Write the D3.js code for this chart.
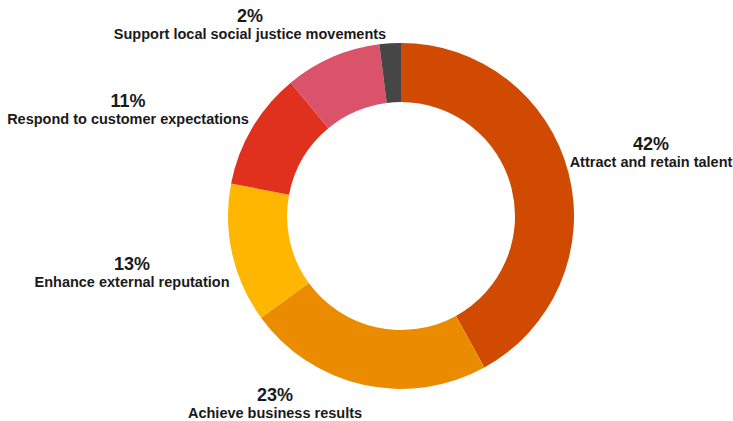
<!DOCTYPE html>
<html>
<head>
<meta charset="utf-8">
<script src="https://cdn.jsdelivr.net/npm/d3@7"></script>
<style>
  html, body { margin: 0; padding: 0; background: #fff; }
  svg { display: block; font-family: "Liberation Sans", Arial, sans-serif; }
</style>
</head>
<body>
<svg id="chart" width="733" height="421"></svg>
<script>
// Reasons for action, share of respondents (%), clockwise from 12 o'clock
const categories = [
  "Attract and retain talent",
  "Achieve business results",
  "Enhance external reputation",
  "Respond to customer expectations",
  "Other",
  "Support local social justice movements"
];
const values = [42, 23, 13, 11, 9, 2];
const showLabel = [true, true, true, true, false, true];
const colors = ["#d04a02", "#eb8c00", "#ffb600", "#e0301e", "#db536a", "#464646"];

// Layout
const width = 733, height = 421;
const cx = 401, cy = 216;
const outerR = 173, innerR = 114;
// Label centres (x, y of the percentage line) set beside each slice
const labelAnchors = [[651, 150], [275, 401], [132, 270], [128, 107], null, [250, 22]];

const svg = d3.select("#chart");
const g = svg.append("g").attr("transform", `translate(${cx},${cy})`);

const pie = d3.pie().value(d => d).sort(null);
const arc = d3.arc().innerRadius(innerR).outerRadius(outerR);
const arcs = pie(values);

g.selectAll("path.slice")
  .data(arcs)
  .join("path")
  .attr("class", "slice")
  .attr("d", arc)
  .attr("fill", (d, i) => colors[i]);

const labels = svg.append("g")
  .selectAll("g.label")
  .data(arcs.filter((d, i) => showLabel[i]))
  .join("g")
  .attr("class", "label")
  .attr("transform", d => {
    const p = labelAnchors[d.index];
    return `translate(${p[0]},${p[1]})`;
  });

labels.append("text")
  .attr("text-anchor", "middle")
  .attr("font-size", 18)
  .attr("font-weight", "bold")
  .attr("fill", "#1a1a1a")
  .text(d => d3.format("d")(d.data) + "%");

labels.append("text")
  .attr("text-anchor", "middle")
  .attr("y", 17)
  .attr("font-size", 14.5)
  .attr("font-weight", "bold")
  .attr("fill", "#1a1a1a")
  .text(d => categories[d.index]);
</script>
</body>
</html>
